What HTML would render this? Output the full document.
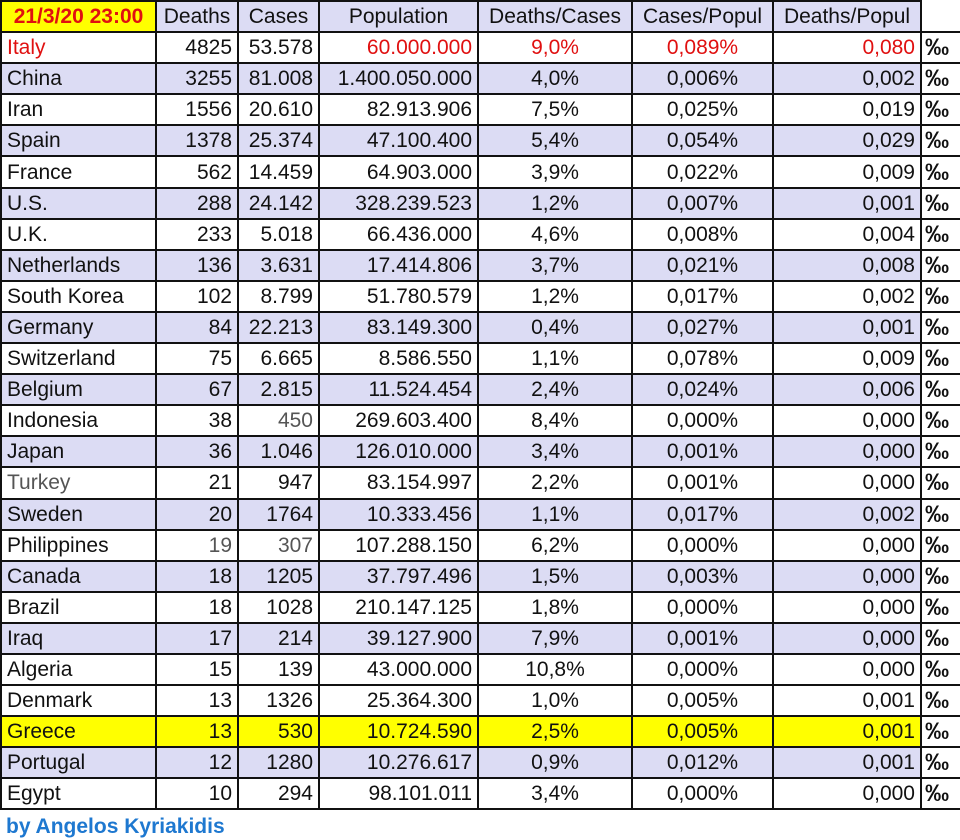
<!DOCTYPE html>
<html><head><meta charset="utf-8"><style>
body{margin:0;background:#fff;width:960px;height:840px;overflow:hidden;font-family:"Liberation Sans",Arial,sans-serif;}
table{border-collapse:collapse;table-layout:fixed;position:absolute;left:0;top:0;width:960px;}
td{border:2px solid #111;height:29.1px;padding:0 5px;font-size:21px;color:#111;white-space:nowrap;text-align:right;line-height:29px;overflow:hidden}
td:first-child{text-align:left;padding-left:5px}
td:nth-child(5),td:nth-child(6){text-align:center}
tr.h td{background:#dcdcf4;text-align:center}
tr.h td:first-child{background:#ffff00;color:#e01010;font-weight:bold;text-align:center}
tr.h td.p{background:#fff;border-top:hidden;border-right:hidden}
tr.l td{background:#dcdcf4}
tr.y td{background:#ffff00}
td.p{background:#fff!important;font-weight:bold;text-align:left;padding-left:3px;font-size:24px}
tr.r td{color:#e01010}
tr.r td:nth-child(2),tr.r td:nth-child(3){color:#111}
tr.r td.p{color:#111}
.g{color:#555!important}
#f{position:absolute;left:6px;top:815px;font-weight:bold;font-size:21px;color:#1e78d0}
</style></head><body>
<table>
<colgroup><col style="width:155px"><col style="width:82px"><col style="width:81px"><col style="width:159px"><col style="width:154px"><col style="width:141px"><col style="width:148px"><col style="width:40px"></colgroup>
<tr class="h"><td>21/3/20 23:00</td><td>Deaths</td><td>Cases</td><td>Population</td><td>Deaths/Cases</td><td>Cases/Popul</td><td>Deaths/Popul</td><td class="p"></td></tr>
<tr class="r"><td>Italy</td><td>4825</td><td>53.578</td><td>60.000.000</td><td>9,0%</td><td>0,089%</td><td>0,080</td><td class="p">‰</td></tr>
<tr class="l"><td>China</td><td>3255</td><td>81.008</td><td>1.400.050.000</td><td>4,0%</td><td>0,006%</td><td>0,002</td><td class="p">‰</td></tr>
<tr><td>Iran</td><td>1556</td><td>20.610</td><td>82.913.906</td><td>7,5%</td><td>0,025%</td><td>0,019</td><td class="p">‰</td></tr>
<tr class="l"><td>Spain</td><td>1378</td><td>25.374</td><td>47.100.400</td><td>5,4%</td><td>0,054%</td><td>0,029</td><td class="p">‰</td></tr>
<tr><td>France</td><td>562</td><td>14.459</td><td>64.903.000</td><td>3,9%</td><td>0,022%</td><td>0,009</td><td class="p">‰</td></tr>
<tr class="l"><td>U.S.</td><td>288</td><td>24.142</td><td>328.239.523</td><td>1,2%</td><td>0,007%</td><td>0,001</td><td class="p">‰</td></tr>
<tr><td>U.K.</td><td>233</td><td>5.018</td><td>66.436.000</td><td>4,6%</td><td>0,008%</td><td>0,004</td><td class="p">‰</td></tr>
<tr class="l"><td>Netherlands</td><td>136</td><td>3.631</td><td>17.414.806</td><td>3,7%</td><td>0,021%</td><td>0,008</td><td class="p">‰</td></tr>
<tr><td>South Korea</td><td>102</td><td>8.799</td><td>51.780.579</td><td>1,2%</td><td>0,017%</td><td>0,002</td><td class="p">‰</td></tr>
<tr class="l"><td>Germany</td><td>84</td><td>22.213</td><td>83.149.300</td><td>0,4%</td><td>0,027%</td><td>0,001</td><td class="p">‰</td></tr>
<tr><td>Switzerland</td><td>75</td><td>6.665</td><td>8.586.550</td><td>1,1%</td><td>0,078%</td><td>0,009</td><td class="p">‰</td></tr>
<tr class="l"><td>Belgium</td><td>67</td><td>2.815</td><td>11.524.454</td><td>2,4%</td><td>0,024%</td><td>0,006</td><td class="p">‰</td></tr>
<tr><td>Indonesia</td><td>38</td><td class="g">450</td><td>269.603.400</td><td>8,4%</td><td>0,000%</td><td>0,000</td><td class="p">‰</td></tr>
<tr class="l"><td>Japan</td><td>36</td><td>1.046</td><td>126.010.000</td><td>3,4%</td><td>0,001%</td><td>0,000</td><td class="p">‰</td></tr>
<tr><td class="g">Turkey</td><td>21</td><td>947</td><td>83.154.997</td><td>2,2%</td><td>0,001%</td><td>0,000</td><td class="p">‰</td></tr>
<tr class="l"><td>Sweden</td><td>20</td><td>1764</td><td>10.333.456</td><td>1,1%</td><td>0,017%</td><td>0,002</td><td class="p">‰</td></tr>
<tr><td>Philippines</td><td class="g">19</td><td class="g">307</td><td>107.288.150</td><td>6,2%</td><td>0,000%</td><td>0,000</td><td class="p">‰</td></tr>
<tr class="l"><td>Canada</td><td>18</td><td>1205</td><td>37.797.496</td><td>1,5%</td><td>0,003%</td><td>0,000</td><td class="p">‰</td></tr>
<tr><td>Brazil</td><td>18</td><td>1028</td><td>210.147.125</td><td>1,8%</td><td>0,000%</td><td>0,000</td><td class="p">‰</td></tr>
<tr class="l"><td>Iraq</td><td>17</td><td>214</td><td>39.127.900</td><td>7,9%</td><td>0,001%</td><td>0,000</td><td class="p">‰</td></tr>
<tr><td>Algeria</td><td>15</td><td>139</td><td>43.000.000</td><td>10,8%</td><td>0,000%</td><td>0,000</td><td class="p">‰</td></tr>
<tr><td>Denmark</td><td>13</td><td>1326</td><td>25.364.300</td><td>1,0%</td><td>0,005%</td><td>0,001</td><td class="p">‰</td></tr>
<tr class="y"><td>Greece</td><td>13</td><td>530</td><td>10.724.590</td><td>2,5%</td><td>0,005%</td><td>0,001</td><td class="p">‰</td></tr>
<tr class="l"><td>Portugal</td><td>12</td><td>1280</td><td>10.276.617</td><td>0,9%</td><td>0,012%</td><td>0,001</td><td class="p">‰</td></tr>
<tr><td>Egypt</td><td>10</td><td>294</td><td>98.101.011</td><td>3,4%</td><td>0,000%</td><td>0,000</td><td class="p">‰</td></tr>
</table>
<div id="f">by Angelos Kyriakidis</div>
</body></html>
